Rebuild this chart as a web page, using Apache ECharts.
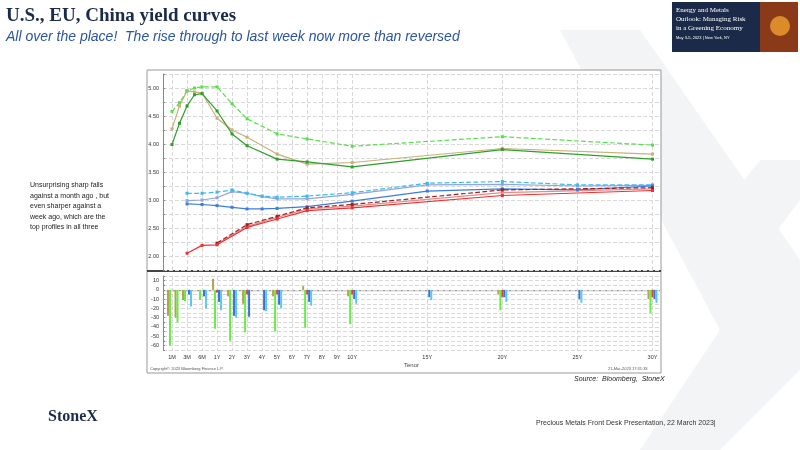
<!DOCTYPE html>
<html><head><meta charset="utf-8">
<script src="https://cdn.jsdelivr.net/npm/echarts@6/dist/echarts.min.js"></script>
<style>html,body{margin:0;padding:0;background:#fff}#c{width:800px;height:450px}</style>
</head><body><div id="c"></div>
<script>
// tenor labels and their positions on the x axis
const tenorLabels = ['1M','3M','6M','1Y','2Y','3Y','4Y','5Y','6Y','7Y','8Y','9Y','10Y','15Y','20Y','25Y','30Y'];
const tenorPos = [0,1,2,3,4,5,6,7,8,9,10,11,12,17,22,27,32];

// US
const usPos = [0,0.5,1,1.5,2,3,4,5,7,9,12,22,32];
const usNow = [3.99,4.37,4.68,4.88,4.90,4.59,4.18,3.97,3.73,3.68,3.59,3.90,3.73];
const usWeek = [4.58,4.74,4.95,5.00,5.02,5.02,4.72,4.45,4.18,4.09,3.96,4.13,3.98];
const usMonth = [4.27,4.68,4.95,4.93,4.91,4.46,4.25,4.12,3.82,3.64,3.67,3.92,3.82];
// EU
const euPos = [1,2,3,4,5,6,7,9,12,17,22,27,32];
const euNow = [2.93,2.92,2.90,2.87,2.84,2.84,2.85,2.88,2.98,3.16,3.20,3.18,3.25];
const euWeek = [3.12,3.12,3.14,3.18,3.12,3.07,3.05,3.07,3.13,3.30,3.33,3.27,3.27];
const euMonth = [2.99,3.00,3.04,3.15,3.12,3.06,3.02,3.02,3.10,3.27,3.28,3.25,3.26];
// China
const cnPos = [1,2,3,5,7,9,12,22,32];
const cnNow = [2.05,2.19,2.20,2.51,2.66,2.81,2.86,3.08,3.17];
const cnWeekPos = [3,5,7,9,12,22,32];
const cnWeek = [2.23,2.56,2.71,2.86,2.92,3.18,3.22];
const cnMonth = [2.22,2.53,2.69,2.84,2.89,3.13,3.20];

// changes, bp
const chgPos = [0,0.5,1,2,3,4,5,6,7,9,12,17,22,27,32];
const chgUsMonth = [-28,-30,-11,null,12,-7,-15,null,-7,4,-7,null,-5,null,-10];
const chgUsWeek = [-60,-35,-12,-11,-42,-55,-46,null,-45,-41,-37,null,-22,null,-25];
const chgCn = [null,null,null,null,-3,null,-5,null,-5,-5,-5,null,-8,null,-8];
const chgEu = [null,null,-5,-7,-13,-28,-29,-22,-16,-13,-10,-8,-8,-10,-10];
const chgEuWeek = [null,null,-18,-20,-22,-30,null,-23,-20,-17,-15,-11,-13,-14,-14];

const zip = (p, v) => p.map((x, i) => [x, v[i]]);
const posToLabel = {};
tenorPos.forEach((p, i) => posToLabel[p] = tenorLabels[i]);

function line(x, y, color, dashed) {
  return { type: 'line', data: zip(x, y), xAxisIndex: 0, yAxisIndex: 0,
    symbol: 'rect', symbolSize: 3, lineStyle: { color: color, width: 1.2, type: dashed ? 'dashed' : 'solid' },
    itemStyle: { color: color }, animation: false };
}
function bar(v, color) {
  return { type: 'bar', data: zip(chgPos, v), xAxisIndex: 1, yAxisIndex: 1,
    barWidth: 2, barGap: '0%', itemStyle: { color: color }, animation: false };
}
const xBase = {
  type: 'value', min: -0.6, max: 32.5,
  axisLine: { show: false },
  axisTick: { show: false, customValues: tenorPos },
  splitLine: { show: true, lineStyle: { color: '#d8d8d8', type: 'dashed' } }
};

const chart = echarts.init(document.getElementById('c'));
chart.setOption({
  backgroundColor: '#fff',
  textStyle: { fontFamily: 'Liberation Sans' },
  grid: [
    { left: 163, right: 140, top: 74, height: 196 },
    { left: 163, right: 140, top: 276, height: 74 }
  ],
  xAxis: [
    Object.assign({}, xBase, { gridIndex: 0, axisLabel: { show: false, customValues: tenorPos } }),
    Object.assign({}, xBase, { gridIndex: 1, name: 'Tenor', nameLocation: 'middle', nameGap: 12,
      nameTextStyle: { fontSize: 6, color: '#444' },
      axisLabel: { customValues: tenorPos, fontSize: 5.5, color: '#333', margin: 4,
        formatter: v => posToLabel[v] || '' } })
  ],
  yAxis: [
    { type: 'value', gridIndex: 0, min: 1.75, max: 5.25, interval: 0.25,
      axisLine: { show: true, onZero: false, lineStyle: { color: '#888' } },
      axisTick: { show: true, length: 2, inside: true },
      axisLabel: { fontSize: 5.5, color: '#333', margin: 4,
        formatter: v => (Math.round(v * 100) % 50 === 0 && v > 1.9 && v < 5.1) ? v.toFixed(2) : '' },
      splitLine: { lineStyle: { color: '#d8d8d8', type: 'dashed' } } },
    { type: 'value', gridIndex: 1, min: -65, max: 15, interval: 5,
      axisLine: { show: true, onZero: false, lineStyle: { color: '#888' } },
      axisTick: { show: true, length: 2, inside: true },
      axisLabel: { fontSize: 5.5, color: '#333', margin: 4,
        formatter: v => (v % 10 === 0 && v >= -60 && v <= 10) ? String(v) : '' },
      splitLine: { lineStyle: { color: '#d8d8d8', type: 'dashed' } } }
  ],
  series: [
    line(usPos, usMonth, '#c8b07a', false),
    line(usPos, usWeek, '#55e04a', true),
    line(usPos, usNow, '#2ea02a', false),
    line(euPos, euMonth, '#8fa7d8', false),
    line(euPos, euWeek, '#3fb8ef', true),
    line(euPos, euNow, '#3d7be0', false),
    line(cnWeekPos, cnMonth, '#e88a8a', false),
    line(cnWeekPos, cnWeek, '#a02020', true),
    line(cnPos, cnNow, '#ee3030', false),
    bar(chgUsMonth, '#b8a050'),
    bar(chgUsWeek, '#66ee44'),
    bar(chgCn, '#e84040'),
    bar(chgEu, '#3a70d8'),
    bar(chgEuWeek, '#5ac8f0')
  ],
  graphic: [
    // background watermark X
    { type: 'polygon', z: -10, shape: { points: [[560,30],[640,30],[800,260],[800,370],[720,450],[640,450],[720,330]] }, style: { fill: '#f3f4f6' } },
    { type: 'polygon', z: -10, shape: { points: [[690,250],[760,160],[800,160],[800,200],[740,280]] }, style: { fill: '#f3f4f6' } },
    { type: 'rect', z: -5, shape: { x: 147, y: 70, width: 514, height: 303 }, style: { fill: '#fff', stroke: '#999', lineWidth: 1 } },
    { type: 'line', shape: { x1: 147, y1: 271, x2: 661, y2: 271 }, style: { stroke: '#444', lineWidth: 2 } },
    { type: 'line', shape: { x1: 163, y1: 290.7, x2: 660, y2: 290.7 }, style: { stroke: '#666', lineWidth: 0.8 } },
    { type: 'text', left: 150, top: 367, style: { text: 'Copyright© 2023 Bloomberg Finance L.P.', fontSize: 4, fill: '#555' } },
    { type: 'text', left: 608, top: 367, style: { text: '21-Mar-2023 17:31:33', fontSize: 4, fill: '#555' } },
    { type: 'text', left: 6, top: 7, style: { text: 'U.S., EU, China yield curves', font: 'bold 19px "Liberation Serif"', fill: '#1a2b4c' } },
    { type: 'text', left: 6, top: 30, style: { text: 'All over the place!  The rise through to last week now more than reversed', font: 'italic 14px "Liberation Sans"', fill: '#2a55a0' } },
    { type: 'rect', shape: { x: 672, y: 2, width: 126, height: 50 }, style: { fill: '#1c2a4a' } },
    { type: 'rect', shape: { x: 760, y: 2, width: 38, height: 50 }, style: { fill: '#8a3a18' } },
    { type: 'circle', shape: { cx: 780, cy: 26, r: 10 }, style: { fill: '#f0a030', opacity: 0.8 } },
    { type: 'text', left: 676, top: 6, style: { text: 'Energy and Metals\nOutlook: Managing Risk\nin a Greening Economy', font: '7px "Liberation Serif"', fill: '#fff', lineHeight: 9 } },
    { type: 'text', left: 676, top: 36, style: { text: 'May 3-5, 2023 | New York, NY', font: '4px "Liberation Sans"', fill: '#fff' } },
    { type: 'text', left: 30, top: 180, style: { text: 'Unsurprising sharp falls\nagainst a month ago , but\neven sharper against a\nweek ago, which are the\ntop profiles in all three', font: '7px "Liberation Sans"', fill: '#222', lineHeight: 10.5 } },
    { type: 'text', left: 574, top: 376, style: { text: 'Source:  Bloomberg,  StoneX', font: 'italic 7px "Liberation Sans"', fill: '#222' } },
    { type: 'text', left: 48, top: 409, style: { text: 'StoneX', font: 'bold 16px "Liberation Serif"', fill: '#1a2b4c' } },
    { type: 'text', left: 536, top: 420, style: { text: 'Precious Metals Front Desk Presentation, 22 March 2023|', font: '7px "Liberation Sans"', fill: '#333' } }
  ]
});
</script>
</body></html>
